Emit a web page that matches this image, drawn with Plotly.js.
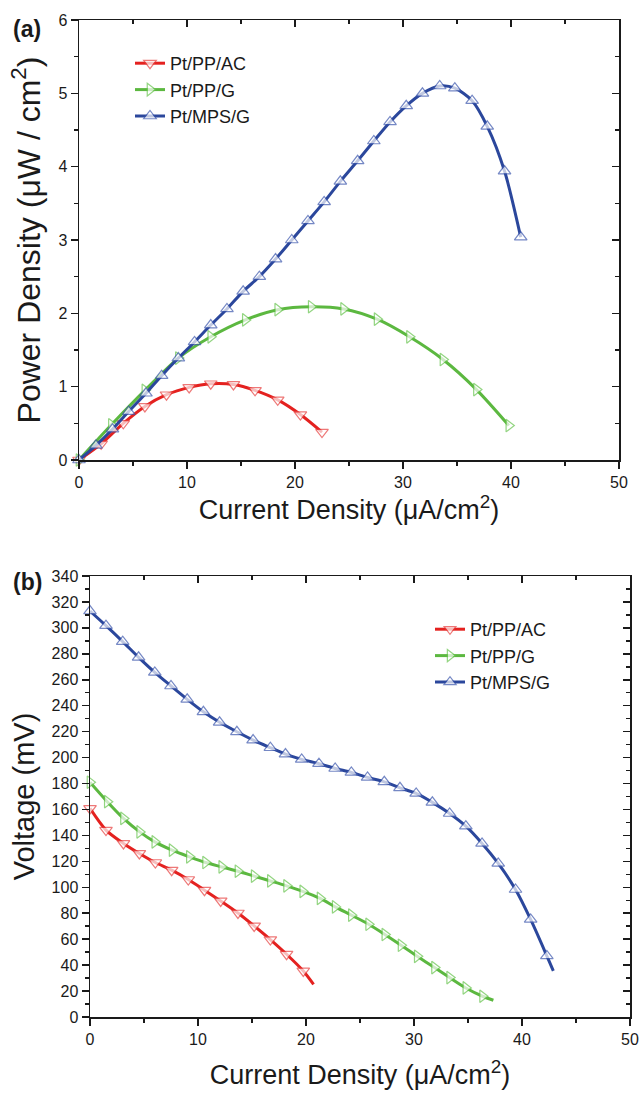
<!DOCTYPE html>
<html>
<head>
<meta charset="utf-8">
<script src="https://cdn.plot.ly/plotly-3.0.1.min.js"></script>
<style>html,body{margin:0;padding:0;background:#fff;}#chart{width:640px;height:1093px;}</style>
</head>
<body>
<div id="chart"></div>
<script>
// ---------- Data: panel (a) power density (µW/cm²) vs current density (µA/cm²)
const seriesNames = ['Pt/PP/AC', 'Pt/PP/G', 'Pt/MPS/G'];

const aRedX = [0, 2.05, 4.1, 6.1, 8.1, 10.2, 12.2, 14.3, 16.3, 18.4, 20.5, 22.5];
const aRedY = [0, 0.22, 0.5, 0.73, 0.89, 0.99, 1.04, 1.03, 0.95, 0.82, 0.62, 0.38];

const aGreenX = [0, 3.0, 6.1, 9.2, 12.2, 15.4, 18.4, 21.5, 24.5, 27.6, 30.6, 33.7, 36.8, 39.8];
const aGreenY = [0, 0.48, 0.95, 1.39, 1.68, 1.91, 2.05, 2.09, 2.06, 1.92, 1.68, 1.37, 0.96, 0.47];

const aBlueX = [0, 1.57, 3.1, 4.6, 6.2, 7.65, 9.2, 10.7, 12.2, 13.7, 15.2, 16.7, 18.2, 19.7,
                21.2, 22.7, 24.2, 25.8, 27.3, 28.8, 30.3, 31.8, 33.4, 34.8, 36.4, 37.8, 39.4, 40.9];
const aBlueY = [0, 0.2, 0.42, 0.66, 0.91, 1.15, 1.39, 1.61, 1.84, 2.06, 2.30, 2.50, 2.74, 3.0,
                3.26, 3.52, 3.80, 4.08, 4.35, 4.61, 4.83, 5.0, 5.10, 5.07, 4.90, 4.55, 3.94, 3.04];

// ---------- Data: panel (b) voltage (mV) vs current density (µA/cm²)
const bRedX = [0, 1.48, 3.1, 4.57, 6.05, 7.56, 9.1, 10.6, 12.1, 13.7, 15.2, 16.7, 18.2, 19.75];
const bRedY = [160.8, 144.1, 133.8, 126.1, 119.1, 113.2, 106.0, 97.8, 89.5, 80.2, 70.2, 59.7, 48.4, 35.5];
const bRedEnd = [20.7, 25.2];

const bGreenX = [0, 1.6, 3.1, 4.6, 6.0, 7.6, 9.2, 10.7, 12.2, 13.7, 15.2, 16.7, 18.2, 19.7,
                 21.3, 22.7, 24.2, 25.8, 27.3, 28.8, 30.3, 31.9, 33.3, 34.8, 36.35];
const bGreenY = [181, 166, 153.1, 142.7, 135, 128.6, 123.5, 119.1, 115.7, 112.4, 108.6, 104.9, 101.1, 96.8,
                 91.4, 84.9, 78.5, 71.5, 63.6, 55.3, 46.8, 38.1, 30.4, 22.4, 16.0];
const bGreenEnd = [37.35, 12.9];

const bBlueX = [0, 1.48, 3.03, 4.5, 6.0, 7.5, 9.0, 10.5, 12.0, 13.6, 15.1, 16.7, 18.1, 19.6,
                21.2, 22.7, 24.2, 25.7, 27.25, 28.7, 30.2, 31.7, 33.3, 34.8, 36.3, 37.8, 39.4, 40.8, 42.3];
const bBlueY = [313, 301.7, 289.4, 277.3, 265.7, 255.2, 244.9, 235.3, 227.2, 219.9, 213.5, 207.6, 202.7, 198.6,
                195.3, 191.6, 188.6, 184.7, 181.3, 176.7, 172.4, 165.5, 156.9, 147.1, 133.8, 118.4, 98.3, 75.2, 47.1];
const bBlueEnd = [42.9, 35.5];

// ---------- Styles
const lineColors = ['#e4211f', '#5cb840', '#2b479c'];
const markColors = ['#e8403f', '#66c44d', '#3c57ad'];
const symbols = ['triangle-down', 'triangle-right', 'triangle-up'];
const MS = 11;
const FONT = 'Liberation Sans, Arial, sans-serif';
const INK = '#1a1a1a';

function mk(i, x, y, end, xa, ya, leg) {
  let xs = x.slice(), ys = y.slice(), sizes = x.map(() => MS);
  if (end) { xs.push(end[0]); ys.push(end[1]); sizes.push(0); }
  return {
    type: 'scatter', mode: 'lines+markers', name: seriesNames[i],
    x: xs, y: ys, xaxis: xa, yaxis: ya, legend: leg, cliponaxis: false,
    line: {color: lineColors[i], width: 3, shape: 'spline', smoothing: 0.8},
    marker: {symbol: symbols[i], size: sizes, color: '#ffffff',
             line: {color: markColors[i], width: 1.2}}
  };
}

const traces = [
  mk(0, aRedX, aRedY, null, 'x', 'y', 'legend'),
  mk(1, aGreenX, aGreenY, null, 'x', 'y', 'legend'),
  mk(2, aBlueX, aBlueY, null, 'x', 'y', 'legend'),
  mk(0, bRedX, bRedY, bRedEnd, 'x2', 'y2', 'legend2'),
  mk(1, bGreenX, bGreenY, bGreenEnd, 'x2', 'y2', 'legend2'),
  mk(2, bBlueX, bBlueY, bBlueEnd, 'x2', 'y2', 'legend2')
];

const W = 640, H = 1093;
const domAx = [79 / W, 619 / W], domAy = [1 - 460 / H, 1 - 20 / H];
const domBx = [90 / W, 630 / W], domBy = [1 - 1017 / H, 1 - 576 / H];

function baseAxis(o) {
  return Object.assign({
    showline: true, linecolor: INK, linewidth: 1.5, mirror: false,
    showgrid: false, zeroline: false, automargin: false,
    ticks: 'outside', ticklen: 7, tickwidth: 1.5, tickcolor: INK,
    tickfont: {family: FONT, size: 16, color: INK},
    fixedrange: true
  }, o);
}
function mirrorAxis(o) {
  return baseAxis(Object.assign({ticks: 'inside', showticklabels: false}, o));
}

const xTitle = 'Current Density (\u03bcA/cm<sup>2</sup>)';
const layout = {
  width: W, height: H, margin: {l: 0, r: 0, t: 0, b: 0},
  paper_bgcolor: '#fff', plot_bgcolor: '#fff',
  font: {family: FONT, color: INK},
  xaxis: baseAxis({domain: domAx, anchor: 'y', range: [0, 50], dtick: 10, tick0: 0,
    minor: {dtick: 5, ticks: 'outside', ticklen: 4, tickwidth: 1.5, tickcolor: INK},
    title: {text: xTitle, font: {family: FONT, size: 27, color: INK}, standoff: 10}}),
  yaxis: baseAxis({domain: domAy, anchor: 'x', range: [0, 6], dtick: 1, tick0: 0,
    minor: {dtick: 0.5, ticks: 'outside', ticklen: 4, tickwidth: 1.5, tickcolor: INK},
    title: {text: 'Power Density (\u03bcW / cm<sup>2</sup>)', font: {family: FONT, size: 32, color: INK}, standoff: 8}}),
  xaxis3: mirrorAxis({overlaying: 'x', anchor: 'y', side: 'top', range: [0, 50], dtick: 10, tick0: 0,
    minor: {dtick: 5, ticks: 'inside', ticklen: 4, tickwidth: 1.5, tickcolor: INK}}),
  yaxis3: mirrorAxis({overlaying: 'y', anchor: 'x', side: 'right', range: [0, 6], dtick: 1, tick0: 0,
    minor: {dtick: 0.5, ticks: 'inside', ticklen: 4, tickwidth: 1.5, tickcolor: INK}}),

  xaxis2: baseAxis({domain: domBx, anchor: 'y2', range: [0, 50], dtick: 10, tick0: 0,
    minor: {dtick: 5, ticks: 'outside', ticklen: 4, tickwidth: 1.5, tickcolor: INK},
    title: {text: xTitle, font: {family: FONT, size: 27, color: INK}, standoff: 18}}),
  yaxis2: baseAxis({domain: domBy, anchor: 'x2', range: [0, 340], dtick: 20, tick0: 0,
    minor: {dtick: 10, ticks: 'outside', ticklen: 4, tickwidth: 1.5, tickcolor: INK},
    title: {text: 'Voltage (mV)', font: {family: FONT, size: 29, color: INK}, standoff: 8}}),
  xaxis4: mirrorAxis({overlaying: 'x2', anchor: 'y2', side: 'top', range: [0, 50], dtick: 10, tick0: 0,
    minor: {dtick: 5, ticks: 'inside', ticklen: 4, tickwidth: 1.5, tickcolor: INK}}),
  yaxis4: mirrorAxis({overlaying: 'y2', anchor: 'x2', side: 'right', range: [0, 340], dtick: 20, tick0: 0,
    minor: {dtick: 10, ticks: 'inside', ticklen: 4, tickwidth: 1.5, tickcolor: INK}}),

  legend: {x: 130 / W, y: 1 - 45 / H, xanchor: 'left', yanchor: 'top',
    bgcolor: 'rgba(0,0,0,0)', font: {family: FONT, size: 18, color: INK}, itemclick: false},
  legend2: {x: 430 / W, y: 1 - 611 / H, xanchor: 'left', yanchor: 'top',
    bgcolor: 'rgba(0,0,0,0)', font: {family: FONT, size: 18, color: INK}, itemclick: false},
  showlegend: true,
  annotations: [
    {text: '<b>(a)</b>', xref: 'paper', yref: 'paper', x: 27 / W, y: 1 - 29 / H,
     xanchor: 'center', yanchor: 'middle', showarrow: false, font: {family: FONT, size: 23, color: INK}},
    {text: '<b>(b)</b>', xref: 'paper', yref: 'paper', x: 27 / W, y: 1 - 582 / H,
     xanchor: 'center', yanchor: 'middle', showarrow: false, font: {family: FONT, size: 23, color: INK}}
  ]
};

// empty traces so the mirror axes are drawn
traces.push({type: 'scatter', x: [], y: [], xaxis: 'x3', yaxis: 'y3', showlegend: false, hoverinfo: 'skip'});
traces.push({type: 'scatter', x: [], y: [], xaxis: 'x4', yaxis: 'y4', showlegend: false, hoverinfo: 'skip'});

Plotly.newPlot('chart', traces, layout, {displayModeBar: false, staticPlot: true});
</script>
</body>
</html>
